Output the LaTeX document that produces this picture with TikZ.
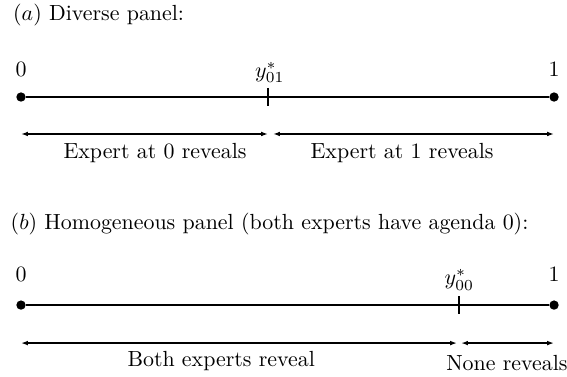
\documentclass[tikz,border=0pt]{standalone}
\usepackage{amsmath}
\usepackage{tikz}
\usetikzlibrary{arrows.meta, positioning}

\begin{document}
\begin{tikzpicture}[line width=0.7pt,
    endpt/.style={circle, fill, inner sep=0pt, minimum size=0.15cm},
    span/.style={{Latex[length=1.1mm,width=0.75mm]}-{Latex[length=1.1mm,width=0.75mm]}}]
    \useasboundingbox (0,0) rectangle (9.1,-6.05);

    % Panel (a)
    \node[anchor=base west, inner sep=0pt] (titleA) at (0.2,-0.332) {$(a)$ Diverse panel:};
    \node[endpt] (a0) at (0.337,-1.557) {};
    \node[endpt] (a1) at (8.892,-1.557) {};
    \coordinate (ya) at (4.302,-1.557);
    \draw (a0) -- (a1);
    \draw ([yshift=0.145cm]ya) -- ([yshift=-0.145cm]ya);
    \node[anchor=base] (zeroA) at (0.337,-1.23) {0};
    \node[anchor=base] (oneA) at (8.892,-1.23) {1};
    \node (ystarA) at (4.33,-1.16) {$y^*_{01}$};

    % Regions (a)
    \coordinate (ra0) at (0.337,-2.15);
    \coordinate (ra1) at (4.302,-2.15);
    \coordinate (ra2) at (4.382,-2.15);
    \coordinate (ra3) at (8.892,-2.15);
    \draw[span] (ra0) -- (ra1);
    \draw[span] (ra2) -- (ra3);
    \node[anchor=base] (expZero) at (2.488,-2.541) {Expert at 0 reveals};
    \node[anchor=base] (expOne) at (6.453,-2.541) {Expert at 1 reveals};

    % Panel (b)
    \node[anchor=base west, inner sep=0pt] (titleB) at (0.16,-3.69) {$(b)$ Homogeneous panel (both experts have agenda 0):};
    \node[endpt] (b0) at (0.337,-4.896) {};
    \node[endpt] (b1) at (8.892,-4.896) {};
    \coordinate (yb) at (7.368,-4.896);
    \draw (b0) -- (b1);
    \draw ([yshift=0.145cm]yb) -- ([yshift=-0.145cm]yb);
    \node[anchor=base] (zeroB) at (0.337,-4.52) {0};
    \node[anchor=base] (oneB) at (8.892,-4.52) {1};
    \node (ystarB) at (7.37,-4.49) {$y^*_{00}$};

    % Regions (b)
    \coordinate (rb0) at (0.337,-5.506);
    \coordinate (rb1) at (7.335,-5.506);
    \coordinate (rb2) at (7.40,-5.506);
    \coordinate (rb3) at (8.892,-5.506);
    \draw[span] (rb0) -- (rb1);
    \draw[span] (rb2) -- (rb3);
    \node[anchor=base] (bothRev) at (3.55,-5.886) {Both experts reveal};
    \node[anchor=base] (noneRev) at (8.135,-5.95) {None reveals};
\end{tikzpicture}
\end{document}
